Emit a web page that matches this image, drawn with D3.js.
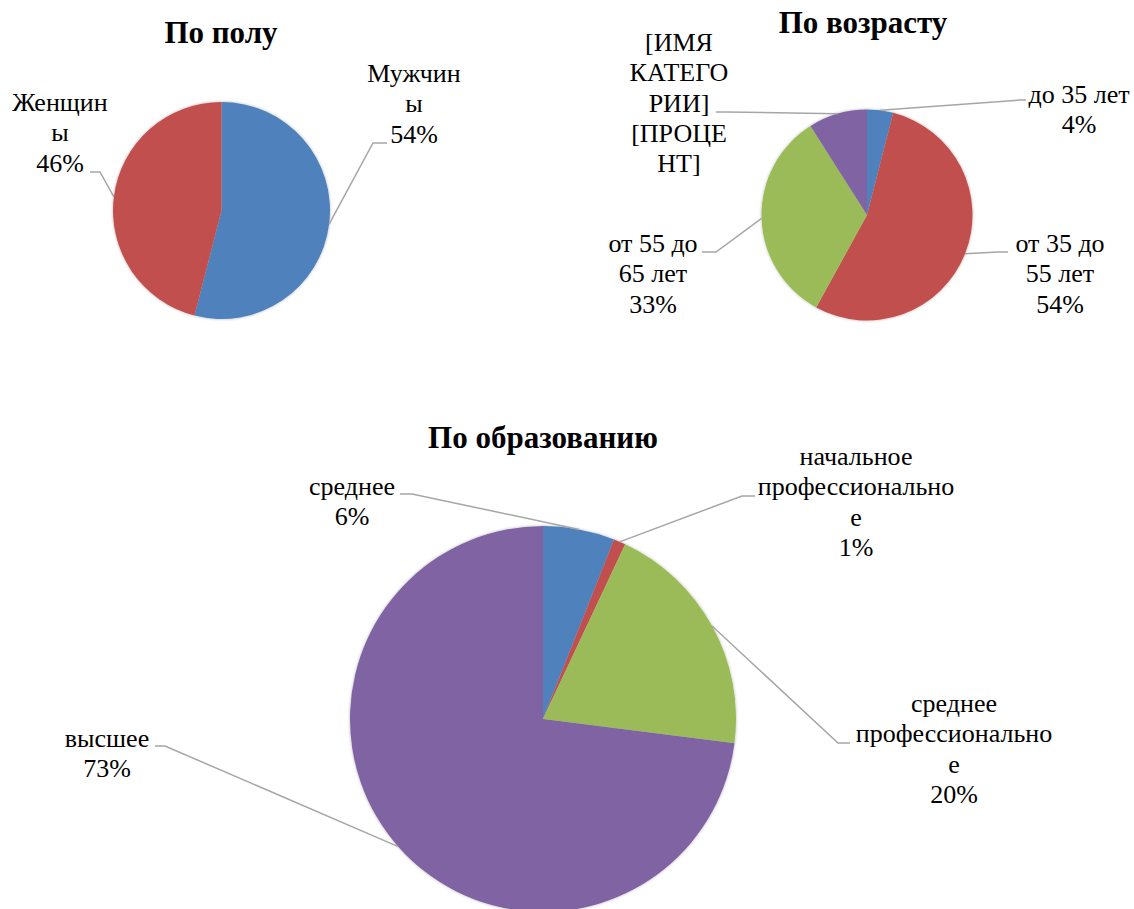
<!DOCTYPE html>
<meta charset="utf-8">

<style>
  body { margin: 0; background: #fff; }
  svg { display: block; }
</style>

<script src="https://d3js.org/d3.v7.min.js"></script>

<div id="charts"></div>

<script>

// ---- data ----
var genderCats = ["Мужчины", "Женщины"];
var genderVals = [54, 46];
var genderLabels = [["Мужчин", "ы", "54%"], ["Женщин", "ы", "46%"]];

var ageCats = ["до 35 лет", "от 35 до 55 лет", "от 55 до 65 лет", "[ИМЯ КАТЕГОРИИ]"];
var ageVals = [4, 54, 33, 9];
var ageLabels = [["до 35 лет", "4%"], ["от 35 до", "55 лет", "54%"], ["от 55 до", "65 лет", "33%"],
                 ["[ИМЯ", "КАТЕГО", "РИИ]", "[ПРОЦЕ", "НТ]"]];

var eduCats = ["среднее", "начальное профессиональное", "среднее профессиональное", "высшее"];
var eduVals = [6, 1, 20, 73];
var eduLabels = [["среднее", "6%"], ["начальное", "профессионально", "е", "1%"],
                 ["среднее", "профессионально", "е", "20%"], ["высшее", "73%"]];

var colours = ["#4f81bd", "#c0504d", "#9bbb59", "#8064a2"];

var FONT = "Liberation Serif";
var width = 1134, height = 909;

var svg = d3.select("#charts")
  .append("svg")
    .attr("width", width)
    .attr("height", height);

// soft shadow like the office pies
var defs = svg.append("defs");
defs.append("filter")
    .attr("id", "soft")
    .attr("x", "-10%").attr("y", "-10%").attr("width", "120%").attr("height", "120%")
  .append("feDropShadow")
    .attr("dx", 0).attr("dy", 0)
    .attr("stdDeviation", 1.5)
    .attr("flood-color", "#000")
    .attr("flood-opacity", 0.3);

// layout: label centre x, first baseline, leader start x, elbow x, leader y
var charts = [
  {title: "По полу", tx: 221, ty: 43, cx: 221.5, cy: 210.5, r: 108.5,
   cats: genderCats, vals: genderVals, labels: genderLabels,
   place: [{x: 414, y: 82, lx: 387, ex: 373, ly: 143},
           {x: 60, y: 111, lx: 90, ex: 100, ly: 172}]},
  {title: "По возрасту", tx: 863, ty: 33, cx: 867, cy: 215, r: 105.5,
   cats: ageCats, vals: ageVals, labels: ageLabels,
   place: [{x: 1079, y: 103, lx: 1026, ex: 1020, ly: 100},
           {x: 1060, y: 252, lx: 1008, ex: 998, ly: 252},
           {x: 653, y: 252, lx: 702, ex: 716, ly: 252},
           {x: 679, y: 51, lx: 716, ex: 726, ly: 112}]},
  {title: "По образованию", tx: 543, ty: 448, cx: 543, cy: 719, r: 193,
   cats: eduCats, vals: eduVals, labels: eduLabels,
   place: [{x: 352, y: 495, lx: 400, ex: 412, ly: 494},
           {x: 856, y: 465, lx: 755, ex: 742, ly: 496},
           {x: 954, y: 712, lx: 850, ex: 838, ly: 743},
           {x: 107, y: 747, lx: 155, ex: 165, ly: 746}]}
];

var pie = d3.pie().sort(null).value(function(d) { return d; });

charts.forEach(function(c) {
  var g = svg.append("g");

  g.append("text")
    .attr("x", c.tx)
    .attr("y", c.ty)
    .attr("text-anchor", "middle")
    .attr("font-family", FONT)
    .attr("font-size", 31)
    .attr("font-weight", "bold")
    .attr("fill", "#000")
    .text(c.title);

  var arcs = pie(c.vals);
  var arc = d3.arc().innerRadius(0).outerRadius(c.r);

  var pg = g.append("g")
    .attr("transform", "translate(" + c.cx + "," + c.cy + ")")
    .attr("filter", "url(#soft)");

  pg.selectAll("path")
    .data(arcs)
    .enter()
    .append("path")
      .attr("d", arc)
      .attr("fill", function(d, i) { return colours[i]; });

  // leader lines to the middle of each slice edge
  arcs.forEach(function(d, i) {
    var p = c.place[i];
    var mid = (d.startAngle + d.endAngle) / 2;
    var px = c.cx + c.r * Math.sin(mid);
    var py = c.cy - c.r * Math.cos(mid);
    g.append("polyline")
      .attr("points", [[p.lx, p.ly], [p.ex, p.ly], [px, py]].map(function(q) { return q.join(","); }).join(" "))
      .attr("fill", "none")
      .attr("stroke", "#a6a6a6")
      .attr("stroke-width", 1.5);

    var t = g.append("text")
      .attr("text-anchor", "middle")
      .attr("font-family", FONT)
      .attr("font-size", 26)
      .attr("fill", "#000");
    c.labels[i].forEach(function(line, k) {
      t.append("tspan")
        .attr("x", p.x)
        .attr("y", p.y + k * 30.3)
        .text(line);
    });
  });
});

</script>
